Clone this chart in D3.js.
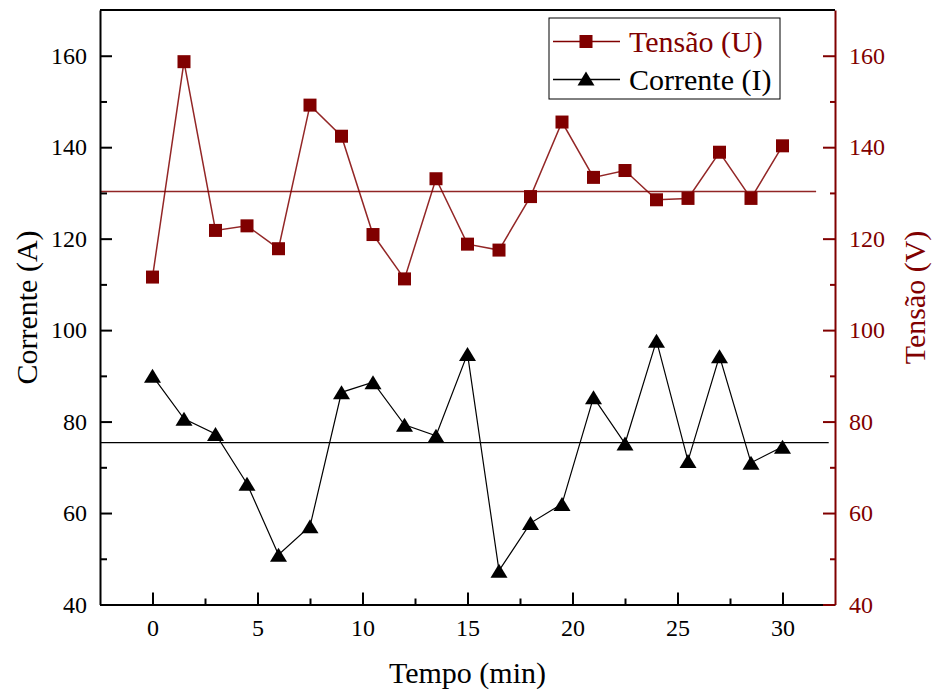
<!DOCTYPE html>
<html>
<head>
<meta charset="utf-8">
<script src="https://cdn.jsdelivr.net/npm/d3@7"></script>
<style>
  html, body { margin: 0; padding: 0; background: #fff; }
  svg { display: block; }
</style>
</head>
<body>
<svg id="chart" width="936" height="694"></svg>
<script>
// Measurement times (min)
const tempo = [0, 1.5, 3, 4.5, 6, 7.5, 9, 10.5, 12, 13.5, 15, 16.5, 18, 19.5, 21, 22.5, 24, 25.5, 27, 28.5, 30];
// Voltage U (V)
const tensao = [111.6, 158.7, 121.8, 122.8, 117.8, 149.2, 142.4, 120.9, 111.2, 133.1, 118.8, 117.5, 129.2, 145.5, 133.4, 134.9, 128.5, 128.8, 138.9, 128.8, 140.3];
// Current I (A)
const corrente = [90.0, 80.6, 77.3, 66.4, 50.9, 57.1, 86.4, 88.6, 79.3, 76.9, 94.8, 47.4, 57.8, 62.0, 85.3, 75.2, 97.7, 71.4, 94.3, 71.0, 74.5];
// Mean reference lines: level and horizontal extent (min)
const mediaTensao = 130.3;
const mediaTensaoX = [-2.5, 31.6];
const mediaCorrente = 75.4;
const mediaCorrenteX = [-2.5, 32.2];
// Tick values
const xTicks = [0, 5, 10, 15, 20, 25, 30];
const xMinor = [2.5, 7.5, 12.5, 17.5, 22.5, 27.5];
const yTicks = [40, 60, 80, 100, 120, 140, 160];
const yMinor = [50, 70, 90, 110, 130, 150];

const WINE = "#800000";
const FONT = "'Times New Roman', Times, Tinos, 'Liberation Serif', 'Nimbus Roman', 'Noto Serif', 'DejaVu Serif', serif";
const svg = d3.select("#chart");

const plot = { left: 100, right: 835, top: 10, bottom: 604.5 };
const x = d3.scaleLinear().domain([-2.5, 32.5]).range([plot.left, plot.right]);
const yL = d3.scaleLinear().domain([40, 170]).range([plot.bottom, plot.top]);
const yR = d3.scaleLinear().domain([40, 170]).range([plot.bottom, plot.top]);

function styleAxis(g, color, fontSize) {
  g.attr("font-family", FONT).attr("font-size", fontSize);
  g.select(".domain").attr("stroke", color).attr("stroke-width", 2);
  g.selectAll(".tick line").attr("stroke", color).attr("stroke-width", 2);
  g.selectAll(".tick text").attr("fill", color)
    .attr("font-family", FONT).attr("font-size", fontSize);
}

// Mean lines
svg.append("line")
  .attr("x1", x(mediaTensaoX[0])).attr("x2", x(mediaTensaoX[1]))
  .attr("y1", yR(mediaTensao)).attr("y2", yR(mediaTensao))
  .attr("stroke", WINE).attr("stroke-width", 1.5).attr("opacity", 0.85);
svg.append("line")
  .attr("x1", x(mediaCorrenteX[0])).attr("x2", x(mediaCorrenteX[1]))
  .attr("y1", yL(mediaCorrente)).attr("y2", yL(mediaCorrente))
  .attr("stroke", "#000").attr("stroke-width", 1.3);

// Series lines
const lineU = d3.line().x((d, i) => x(tempo[i])).y(d => yR(d));
const lineI = d3.line().x((d, i) => x(tempo[i])).y(d => yL(d));
svg.append("path").datum(tensao).attr("d", lineU)
  .attr("fill", "none").attr("stroke", WINE).attr("stroke-width", 1.5).attr("opacity", 0.85);
svg.append("path").datum(corrente).attr("d", lineI)
  .attr("fill", "none").attr("stroke", "#000").attr("stroke-width", 1.2);

// Markers
const sq = 13;
svg.append("g").selectAll("rect").data(tensao).join("rect")
  .attr("x", (d, i) => x(tempo[i]) - sq / 2)
  .attr("y", d => yR(d) - sq / 2)
  .attr("width", sq).attr("height", sq)
  .attr("fill", WINE);

const triW = 17, triH = 14;
const tri = (cx, cy) => `M${cx},${cy - triH / 2}L${cx + triW / 2},${cy + triH / 2}L${cx - triW / 2},${cy + triH / 2}Z`;
svg.append("g").selectAll("path").data(corrente).join("path")
  .attr("d", (d, i) => tri(x(tempo[i]), yL(d)))
  .attr("fill", "#000");

// Top frame line
svg.append("line").attr("x1", plot.left).attr("x2", plot.right).attr("y1", plot.top).attr("y2", plot.top)
  .attr("stroke", "#000").attr("stroke-width", 2);

// Bottom axis
const gx = svg.append("g").attr("transform", `translate(0,${plot.bottom})`)
  .call(d3.axisBottom(x).tickValues(xTicks).tickSize(-12).tickSizeOuter(0).tickPadding(14));
styleAxis(gx, "#000", 24);
const gxm = svg.append("g").attr("transform", `translate(0,${plot.bottom})`)
  .call(d3.axisBottom(x).tickValues(xMinor).tickSize(-6).tickSizeOuter(0).tickFormat(""));
styleAxis(gxm, "#000", 24);
gxm.select(".domain").remove();

// Left axis
const gy = svg.append("g").attr("transform", `translate(${plot.left},0)`)
  .call(d3.axisLeft(yL).tickValues(yTicks).tickSize(-12).tickSizeOuter(0).tickPadding(13));
styleAxis(gy, "#000", 24);
const gym = svg.append("g").attr("transform", `translate(${plot.left},0)`)
  .call(d3.axisLeft(yL).tickValues(yMinor).tickSize(-7).tickSizeOuter(0).tickFormat(""));
styleAxis(gym, "#000", 24);
gym.select(".domain").remove();

// Right axis
const gr = svg.append("g").attr("transform", `translate(${plot.right},0)`)
  .call(d3.axisRight(yR).tickValues(yTicks).tickSize(-12).tickSizeOuter(0).tickPadding(14));
styleAxis(gr, WINE, 24);
const grm = svg.append("g").attr("transform", `translate(${plot.right},0)`)
  .call(d3.axisRight(yR).tickValues(yMinor).tickSize(-5).tickSizeOuter(0).tickFormat(""));
styleAxis(grm, WINE, 24);
grm.select(".domain").remove();

// Axis titles
const title = (txt, transform, color) => svg.append("text").text(txt)
  .attr("transform", transform).attr("text-anchor", "middle")
  .attr("font-family", FONT).attr("font-size", 30).attr("fill", color);
title("Tempo (min)", "translate(467.5,683)", "#000");
title("Corrente (A)", "translate(37,307.5) rotate(-90)", "#000");
title("Tensão (V)", "translate(925,297.5) rotate(-90)", WINE);

// Legend
const lg = svg.append("g");
lg.append("rect").attr("x", 549).attr("y", 18).attr("width", 231).attr("height", 81)
  .attr("fill", "#fff").attr("stroke", "#000").attr("stroke-width", 1);
const legendItems = [
  { label: "Tensão (U)", color: WINE, y: 41.5, marker: "square" },
  { label: "Corrente (I)", color: "#000", y: 79.5, marker: "triangle" }
];
legendItems.forEach(it => {
  lg.append("line").attr("x1", 553).attr("x2", 620).attr("y1", it.y).attr("y2", it.y)
    .attr("stroke", it.color).attr("stroke-width", 1.3);
  if (it.marker === "square") {
    lg.append("rect").attr("x", 586 - sq / 2).attr("y", it.y - sq / 2)
      .attr("width", sq).attr("height", sq).attr("fill", it.color);
  } else {
    lg.append("path").attr("d", tri(586, it.y - 1)).attr("fill", it.color);
  }
  lg.append("text").text(it.label).attr("x", 629).attr("y", it.y + 10)
    .attr("font-family", FONT).attr("font-size", 30).attr("fill", it.color);
});
</script>
</body>
</html>
